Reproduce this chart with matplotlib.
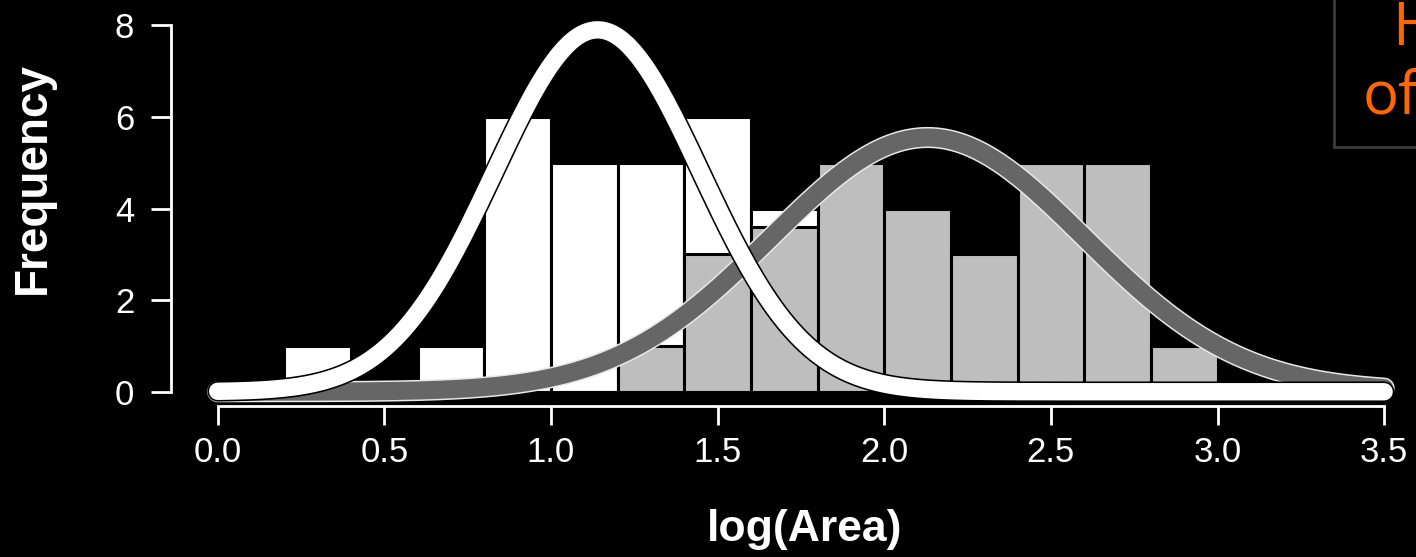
# Histogram of log(Area) for two groups, with fitted normal curves

import matplotlib.pyplot as plt
import matplotlib.patheffects as pe
from matplotlib.patches import Rectangle
import numpy as np

# bins (width 0.2 from 0.0 to 3.2)
bin_edges = np.round(np.arange(0.0, 3.21, 0.2), 2)
white_counts = [0, 1, 0, 1, 6, 5, 5, 6, 4, 0, 0, 0, 0, 0, 0, 0]
gray_counts = [0, 0, 0, 0, 0, 0, 1, 3, 3.6, 5, 4, 3, 5, 5, 1, 0]

# fitted normal curves: mean, sd, peak height
white_fit = (1.14, 0.31, 7.9)
gray_fit = (2.13, 0.47, 5.55)

xticks = [0.0, 0.5, 1.0, 1.5, 2.0, 2.5, 3.0, 3.5]
xticklabels = ["0.0", "0.5", "1.0", "1.5", "2.0", "2.5", "3.0", "3.5"]
yticks = [0, 2, 4, 6, 8]

W, H = 1416, 557
fig = plt.figure(figsize=(W / 100, H / 100), dpi=100, facecolor="black")

# plot region (right edge runs past the figure, as in the cropped slide)
left, right, bottom, top = 171, 1430.8, 406.4, 10.6
ax = fig.add_axes([left / W, 1 - bottom / H, (right - left) / W, (bottom - top) / H])
ax.set_facecolor("black")
ax.set_xlim(-0.14, 3.64)
ax.set_ylim(-0.32, 8.32)

ax.bar(bin_edges[:-1], white_counts, width=0.2, align="edge",
       color="white", edgecolor="black", linewidth=2.2, zorder=2)
ax.bar(bin_edges[:-1], gray_counts, width=0.2, align="edge",
       color="#bebebe", edgecolor="black", linewidth=2.2, zorder=3)

xs = np.linspace(0, 3.5, 500)


def normal_curve(params):
    mu, sd, peak = params
    return peak * np.exp(-(xs - mu) ** 2 / (2 * sd ** 2))


ax.plot(xs, normal_curve(gray_fit), color="#666666", lw=13,
        solid_capstyle="round", zorder=4, clip_on=False,
        path_effects=[pe.Stroke(linewidth=15.2, foreground="#e8e8e8"), pe.Normal()])
ax.plot(xs, normal_curve(white_fit), color="white", lw=12.5,
        solid_capstyle="round", zorder=5, clip_on=False,
        path_effects=[pe.Stroke(linewidth=14.8, foreground="black"), pe.Normal()])

# R-style axes
for s in ["top", "right"]:
    ax.spines[s].set_visible(False)
ax.spines["left"].set_bounds(0, 8)
ax.spines["bottom"].set_bounds(0, 3.5)
for s in ["left", "bottom"]:
    ax.spines[s].set_color("white")
    ax.spines[s].set_linewidth(2)

ax.set_xticks(xticks)
ax.set_xticklabels(xticklabels)
ax.set_yticks(yticks)
ax.tick_params(axis="x", colors="white", length=13.5, width=2, pad=8, labelsize=25)
ax.tick_params(axis="y", colors="white", length=14.5, width=2, pad=12, labelsize=25)
for lab in ax.get_xticklabels() + ax.get_yticklabels():
    lab.set_family("Liberation Sans")

fig.text(805 / W, 1 - 530 / H, "log(Area)", color="white", fontsize=32,
         fontweight="bold", family="Liberation Sans", ha="center", va="center")
fig.text(33 / W, 1 - 178 / H, "Frequency", color="white", fontsize=33,
         fontweight="bold", family="Liberation Sans", rotation=90,
         ha="center", va="center")

# cropped title box in the top right corner
box = Rectangle((1334 / W, 1 - 147 / H), (W - 1334) / W + 0.01, 147 / H + 0.01,
                transform=fig.transFigure, facecolor="black",
                edgecolor="#3c3c3c", linewidth=2, zorder=0)
fig.patches.append(box)
gax = fig.add_axes([1336 / W, 1 - 145 / H, 28 / W, 145 / H])
gax.imshow(np.linspace(0.17, 0.0, 50)[None, :], cmap="gray", vmin=0, vmax=1,
           aspect="auto", extent=[0, 1, 0, 1])
gax.axis("off")

fig.text(1392 / W, 1 - 45 / H, "H", color="#ff6600", fontsize=43,
         family="Open Sans", ha="left", va="baseline")
fig.text(1363 / W, 1 - 114 / H, "of", color="#ff6600", fontsize=43,
         family="Open Sans", ha="left", va="baseline")

fig.savefig("out.png", dpi=100, facecolor="black")
